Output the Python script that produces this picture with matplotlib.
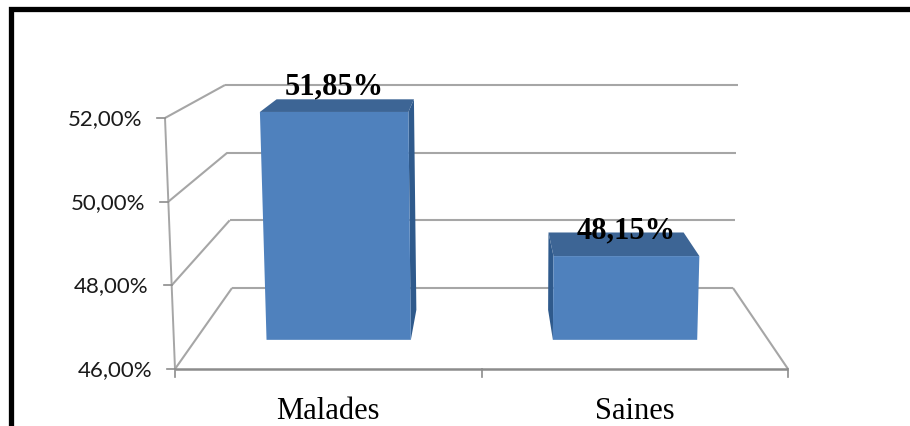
from matplotlib import pyplot as plt
from matplotlib.patches import Polygon

categories = ['Malades', 'Saines']
values = [51.85, 48.15]
value_labels = ['51,85%', '48,15%']
y_ticks = [46, 48, 50, 52]
y_tick_labels = ['46,00%', '48,00%', '50,00%', '52,00%']

# Corners of the fake 3D box, in figure pixels: (x, y) at value 46 and value 52
FRONT_LEFT = ((175, 369), (165, 118))
FRONT_RIGHT = ((788, 369), (798, 118))
BACK_LEFT = ((232, 288), (225, 85))
BACK_RIGHT = ((733, 288), (738, 85))

BAR_HALF = 0.126
BAR_D0, BAR_D1 = 0.36, 0.73
GRID = '#a6a6a6'
AXIS = '#8c8c8c'


def lerp(a, b, t):
    return a + (b - a) * t


def edge(corner, v):
    t = (v - y_ticks[0]) / (y_ticks[-1] - y_ticks[0])
    return lerp(corner[0][0], corner[1][0], t), lerp(corner[0][1], corner[1][1], t)


def project(u, v, d):
    # u across the chart, v the value, d depth from the front (0) to the back wall (1)
    fl, fr = edge(FRONT_LEFT, v), edge(FRONT_RIGHT, v)
    bl, br = edge(BACK_LEFT, v), edge(BACK_RIGHT, v)
    left = lerp(fl[0], bl[0], d), lerp(fl[1], bl[1], d)
    right = lerp(fr[0], br[0], d), lerp(fr[1], br[1], d)
    return lerp(left[0], right[0], u), lerp(left[1], right[1], u)


def line(ax, p, q, color=GRID, lw=1.5, z=1):
    ax.plot([p[0], q[0]], [p[1], q[1]], color=color, lw=lw, zorder=z, solid_capstyle='butt')


fig = plt.figure(figsize=(9.1, 4.26), dpi=100)
ax = fig.add_axes([0, 0, 1, 1])
ax.set_xlim(0, 910)
ax.set_ylim(426, 0)
ax.axis('off')

# Black frame, open on the right and at the bottom
ax.plot([10.5, 10.5, 910], [426, 8.5, 8.5], color='black', lw=3.8, solid_joinstyle='miter', zorder=5)

# Walls and floor
for v in y_ticks:
    line(ax, edge(FRONT_LEFT, v), edge(BACK_LEFT, v))
    line(ax, edge(BACK_LEFT, v), edge(BACK_RIGHT, v))
line(ax, edge(BACK_RIGHT, 46), edge(FRONT_RIGHT, 46))
line(ax, edge(FRONT_LEFT, 46), edge(FRONT_RIGHT, 46), color=AXIS, lw=1.8)
line(ax, edge(FRONT_LEFT, 46), edge(FRONT_LEFT, 52), lw=1.4)

# Tick marks and labels on the value axis
for v, label in zip(y_ticks, y_tick_labels):
    x, y = edge(FRONT_LEFT, v)
    ax.plot([x - 8, x], [y, y], color=AXIS, lw=1.2, zorder=1)
    ax.text(x - 23, y + 1, label, ha='right', va='center', fontsize=16, family='Lato', color='#1a1a1a')

# Ticks between the categories
for u in [0, 0.5, 1]:
    x, y = project(u, 46, 0)
    ax.plot([x, x], [y, y + 8], color=AXIS, lw=1.2, zorder=1)

for i, (name, val, text) in enumerate(zip(categories, values, value_labels)):
    c = 0.25 + 0.5 * i
    u0, u1 = c - BAR_HALF, c + BAR_HALF
    front = [project(u0, 46, BAR_D0), project(u1, 46, BAR_D0), project(u1, val, BAR_D0), project(u0, val, BAR_D0)]
    top = [project(u0, val, BAR_D0), project(u1, val, BAR_D0), project(u1, val, BAR_D1), project(u0, val, BAR_D1)]
    # only the side facing the centre of the view can be seen
    su = u1 if i == 0 else u0
    side = [project(su, 46, BAR_D0), project(su, val, BAR_D0), project(su, val, BAR_D1), project(su, 46, BAR_D1)]
    ax.add_patch(Polygon(side, facecolor='#2f5a8c', edgecolor='none', zorder=2))
    ax.add_patch(Polygon(top, facecolor='#3d6595', edgecolor='none', zorder=2))
    ax.add_patch(Polygon(front, facecolor='#4f81bd', edgecolor='none', zorder=3))

    tx, ty = project(c, val, BAR_D0)
    ax.text(tx, ty - 18, text, ha='center', va='baseline', fontsize=22, fontweight='bold',
            family='Liberation Serif', color='black', zorder=4)
    ax.text(project(c, 46, 0)[0], 419, name, ha='center', va='baseline', fontsize=22,
            family='Liberation Serif', color='black')

fig.savefig('out.png', dpi=100)
